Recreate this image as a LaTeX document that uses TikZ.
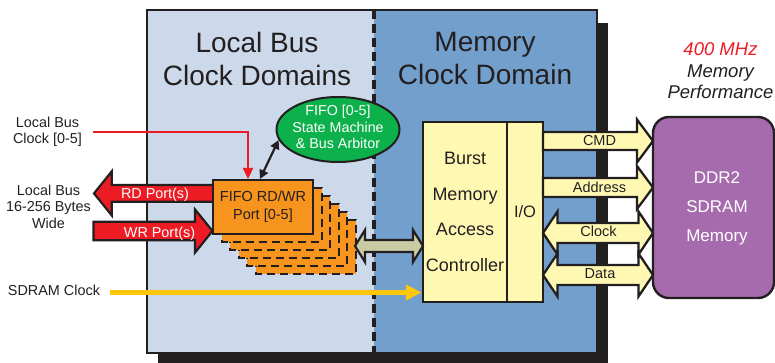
\documentclass[tikz,border=0pt]{standalone}
\usepackage{fontspec}
\setmainfont{Liberation Sans}
\usetikzlibrary{shapes.geometric,arrows.meta,calc}
\definecolor{lbblue}{HTML}{CCD9EA}
\definecolor{mcblue}{HTML}{729FCB}
\definecolor{ink}{HTML}{231F20}
\definecolor{fifoorange}{HTML}{F7941D}
\definecolor{portred}{HTML}{ED1C24}
\definecolor{arbgreen}{HTML}{0DB14B}
\definecolor{paleyellow}{HTML}{FFF8B3}
\definecolor{sage}{HTML}{C7CCA3}
\definecolor{ddrpurple}{HTML}{A66BAD}
\definecolor{clkyellow}{HTML}{FFC60B}
\newcommand\fs[2]{\fontsize{#1}{#2}\selectfont}
% fat arrow shapes: tail x, tip x, y, body half, head half, head length, style
\newcommand\myarrR[7]{\draw[#7] (#1,{#3-#4}) -- ({#2-#6},{#3-#4}) -- ({#2-#6},{#3-#5}) -- (#2,#3) -- ({#2-#6},{#3+#5}) -- ({#2-#6},{#3+#4}) -- (#1,{#3+#4}) -- cycle;}
% left pointing: tip x, tail x, ...
\newcommand\myarrL[7]{\draw[#7] (#2,{#3-#4}) -- ({#1+#6},{#3-#4}) -- ({#1+#6},{#3-#5}) -- (#1,#3) -- ({#1+#6},{#3+#5}) -- ({#1+#6},{#3+#4}) -- (#2,{#3+#4}) -- cycle;}
% double: left tip x, right tip x, ...
\newcommand\myarrD[7]{\draw[#7] ({#1+#6},{#3-#4}) -- ({#2-#6},{#3-#4}) -- ({#2-#6},{#3-#5}) -- (#2,#3) -- ({#2-#6},{#3+#5}) -- ({#2-#6},{#3+#4}) -- ({#1+#6},{#3+#4}) -- ({#1+#6},{#3+#5}) -- (#1,#3) -- ({#1+#6},{#3-#5}) -- cycle;}
\begin{document}
\begin{tikzpicture}[x=1pt,y=-1pt,
  title/.style={anchor=north, inner sep=0pt, align=center, text=ink, font=\fs{28}{33}},
  sidelbl/.style={inner sep=0pt, align=center, text=ink, font=\fs{14.4}{16.5}},
  portlbl/.style={inner sep=0pt, anchor=base, text=white, font=\fs{14.4}{17}},
  buslbl/.style={inner sep=0pt, anchor=base, text=ink, font=\fs{14.5}{17}},
  fifobox/.style={draw=ink, line width=2pt, fill=fifoorange, minimum width=100pt, minimum height=54pt, inner sep=0pt, align=center, text=ink, font=\fs{14.5}{18}},
  stackbox/.style={draw=ink, line width=2pt, fill=fifoorange, dash pattern=on 8pt off 5pt},
  arbnode/.style={ellipse, draw=ink, line width=2pt, fill=arbgreen, minimum width=123pt, minimum height=65pt, inner sep=0pt},
  arbtext/.style={inner sep=0pt, align=center, text=white, font=\fs{14.3}{16.5}},
  ybox/.style={draw=ink, line width=2.4pt, fill=paleyellow, minimum height=180pt, inner sep=0pt, align=center, text=ink},
  ddrbox/.style={draw=ink, line width=2.4pt, fill=ddrpurple, rounded corners=16pt, minimum width=121pt, minimum height=181pt, inner sep=0pt},
  ddrtext/.style={inner sep=0pt, align=center, text=white, font=\fs{17}{29}},
  fatred/.style={draw=ink, line width=2.2pt, fill=portred, line join=miter},
  fatyel/.style={draw=ink, line width=2.3pt, fill=paleyellow, line join=miter},
  fatsage/.style={draw=ink, line width=2.2pt, fill=sage, line join=miter},
  redline/.style={draw=portred, line width=2.2pt, -{Triangle[length=11pt,width=10pt]}},
  clkline/.style={draw=clkyellow, line width=4.5pt, -{Triangle[length=16pt,width=15pt]}},
  ctrlline/.style={draw=ink, line width=2.2pt, {Triangle[length=9pt,width=9pt]}-{Triangle[length=9pt,width=9pt]}}
]
\useasboundingbox (0,0) rectangle (775,363);
% panel with shadow
\fill[ink] (158,23) rectangle (608,363);
\fill[lbblue] (147,10) rectangle (374,353);
\fill[mcblue] (374,10) rectangle (597,353);
\draw[ink, line width=2pt] (147,10) rectangle (597,353);
\draw[ink, line width=4pt, dash pattern=on 9pt off 5pt] (374,10) -- (374,353);
% titles
\node[title] (lbtitle) at (257,31.6) {Local Bus\\Clock Domains};
\node[title] (mctitle) at (485,31.6) {Memory\\Clock Domain};
% left labels
\node[sidelbl, anchor=north] (lbclk) at (47.5,116.5) {Local Bus\\Clock [0-5]};
\node[sidelbl, anchor=north] (lbwidth) at (48.5,184.5) {Local Bus\\16-256 Bytes\\Wide};
\node[sidelbl, anchor=base] (sdclk) at (54,295) {SDRAM Clock};
% port arrows
\myarrL{94}{215}{193.4}{8.4}{22}{17.7}{fatred}
\myarrR{93.5}{212.5}{231}{9.2}{21.6}{17.5}{fatred}
\node[portlbl] (rdtxt) at (155,199) {RD Port(s)};
\node[portlbl] (wrtxt) at (159.5,237) {WR Port(s)};
% FIFO stack
\foreach \k in {5,4,3,2,1}
  \draw[stackbox] ({213+8.6*\k},{180+8*\k}) rectangle ({313+8.6*\k},{234+8*\k});
\node[fifobox] (fifo) at (263,207) {FIFO RD/WR\\Port [0-5]};
% arbiter
\node[arbnode] (arb) at (338,129.5) {};
\node[arbtext] (arbtxt) at ($(arb.center)+(0,-2.5)$) {FIFO [0-5]\\State Machine\\\& Bus Arbitor};
\draw[ctrlline] ($(fifo.north west)+(48,0)$) -- (arb.190);
% local bus clock
\draw[redline] ($(lbclk.east)+(11,0)$) -| ($(fifo.north west)+(36,0)$);
% controller
\node[ybox, minimum width=84pt, font=\fs{18}{35.7}] (burst) at (465,212) {Burst\\Memory\\Access\\Controller};
\node[ybox, minimum width=36pt, font=\fs{16.5}{20}] (io) at (525,212) {I/O};
% fifo <-> controller
\myarrD{355}{423}{246}{6}{16}{10}{fatsage}
% SDRAM clock
\coordinate (sdstart) at (110,292.5);
\draw[clkline] (sdstart) -- (sdstart -| burst.west);
% memory buses
\myarrR{543}{653}{141}{9}{21.5}{16}{fatyel}
\myarrR{543}{653}{187.5}{9.5}{21.5}{16}{fatyel}
\myarrD{543}{653}{233}{10}{21.5}{14.5}{fatyel}
\myarrD{543}{653}{275}{10}{21.5}{14.5}{fatyel}
\node[buslbl] (cmdtxt) at (599.5,146) {CMD};
\node[buslbl] (addrtxt) at (599.5,192.5) {Address};
\node[buslbl] (clktxt) at (598.5,236.5) {Clock};
\node[buslbl] (datatxt) at (600,278.5) {Data};
% DDR2 memory
\node[ddrbox] (ddr) at (713.5,207.5) {};
\node[ddrtext] (ddrtxt) at ($(ddr.center)+(3.5,0.8)$) {DDR2\\SDRAM\\Memory};
% performance note
\node[anchor=north, inner sep=0pt, align=center, text=ink, font=\fs{18.5}{21.5}\itshape] (perf) at (720.5,42.6) {\textcolor{portred}{400 MHz}\\Memory\\Performance};
\end{tikzpicture}
\end{document}
